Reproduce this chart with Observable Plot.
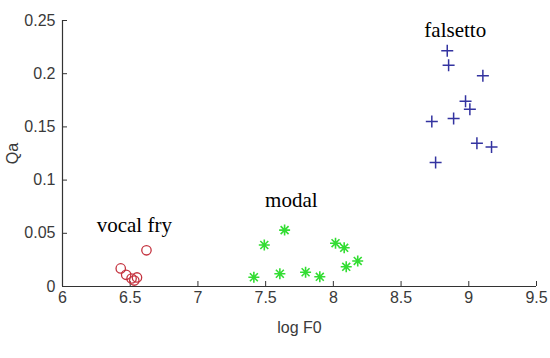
<!DOCTYPE html>
<html><head><meta charset="utf-8">
<script src="https://cdn.jsdelivr.net/npm/d3@7"></script>
<script src="https://cdn.jsdelivr.net/npm/@observablehq/plot@0.6"></script>
<style>body{margin:0;background:#fff}</style>
</head><body><div id="chart"></div>
<script>
// vocal fry (red circles)
const fryX = [6.62, 6.43, 6.47, 6.51, 6.55, 6.53];
const fryY = [0.034, 0.017, 0.011, 0.0075, 0.0085, 0.0056];
// modal (green stars)
const modalX = [7.413, 7.49, 7.64, 7.605, 7.795, 7.90, 8.016, 8.08, 8.095, 8.18];
const modalY = [0.0087, 0.039, 0.053, 0.012, 0.0134, 0.0091, 0.0407, 0.0364, 0.0185, 0.024];
// falsetto (blue plus)
const falsX = [8.841, 8.851, 9.104, 8.976, 9.008, 8.888, 8.727, 9.06, 9.168, 8.755];
const falsY = [0.2215, 0.208, 0.198, 0.174, 0.1666, 0.158, 0.155, 0.1347, 0.131, 0.1165];
// cluster labels
const labelText = ["vocal fry", "modal", "falsetto"];
const labelX = [6.53, 7.69, 8.9];
const labelY = [0.058, 0.081, 0.241];
// ticks
const xTicks = [6, 6.5, 7, 7.5, 8, 8.5, 9, 9.5];
const yTicks = [0, 0.05, 0.1, 0.15, 0.2, 0.25];

const toPts = (xs, ys) => xs.map((x, i) => ({x, y: ys[i]}));
const fry = toPts(fryX, fryY);
const modal = toPts(modalX, modalY);
const fals = toPts(falsX, falsY);
const labels = labelText.map((t, i) => ({t, x: labelX[i], y: labelY[i]}));

const plusSym = {draw(ctx, size) {
  const r = Math.sqrt(size / Math.PI);
  ctx.moveTo(-r, 0); ctx.lineTo(r, 0);
  ctx.moveTo(0, -r); ctx.lineTo(0, r);
}};
const starSym = {draw(ctx, size) {
  const r = Math.sqrt(size / Math.PI);
  const d = r * 0.72;
  ctx.moveTo(-r, 0); ctx.lineTo(r, 0);
  ctx.moveTo(0, -r); ctx.lineTo(0, r);
  ctx.moveTo(-d, -d); ctx.lineTo(d, d);
  ctx.moveTo(-d, d); ctx.lineTo(d, -d);
}};

const chart = Plot.plot({
  width: 550, height: 358,
  marginLeft: 62, marginRight: 14, marginTop: 20, marginBottom: 72,
  style: {fontFamily: "'Liberation Sans', Arial, sans-serif", fontSize: "16px", color: "#3a3a3a", background: "#fff"},
  x: {domain: [6, 9.5]},
  y: {domain: [0, 0.25]},
  marks: [
    Plot.axisX({ticks: xTicks, tickSize: 0, tickPadding: 5, tickFormat: d => String(d),
      label: "log F0", labelAnchor: "center", labelArrow: "none", labelOffset: 46}),
    Plot.axisX({ticks: xTicks, tickSize: -5, text: null, label: null, stroke: "#333"}),
    Plot.axisY({ticks: yTicks, tickSize: 0, tickPadding: 7, tickFormat: d => String(+d.toFixed(2)),
      label: "Qa", labelAnchor: "center", labelArrow: "none", labelOffset: 56}),
    Plot.axisY({ticks: yTicks, tickSize: -5, text: null, label: null, stroke: "#333"}),
    Plot.ruleX([6], {stroke: "#333", strokeWidth: 1.2}),
    Plot.ruleY([0], {stroke: "#333", strokeWidth: 1.2}),
    Plot.dot(fry, {x: "x", y: "y", r: 4.7, symbol: "circle", fill: "none", stroke: "#c4323e", strokeWidth: 1.3}),
    Plot.dot(modal, {x: "x", y: "y", r: 5.5, symbol: starSym, fill: "none", stroke: "#33dd33", strokeWidth: 1.6}),
    Plot.dot(fals, {x: "x", y: "y", r: 6, symbol: plusSym, fill: "none", stroke: "#3333a0", strokeWidth: 1.5}),
    Plot.text(labels, {x: "x", y: "y", text: "t", fontFamily: "'Liberation Serif', 'Times New Roman', serif",
      fontSize: 21, fill: "#000", ariaLabel: "cluster-label"})
  ]
});
d3.select(chart).selectAll('g[aria-label="cluster-label"]').attr("letter-spacing", "1.1px");
document.getElementById("chart").appendChild(chart);
</script>
</body></html>
